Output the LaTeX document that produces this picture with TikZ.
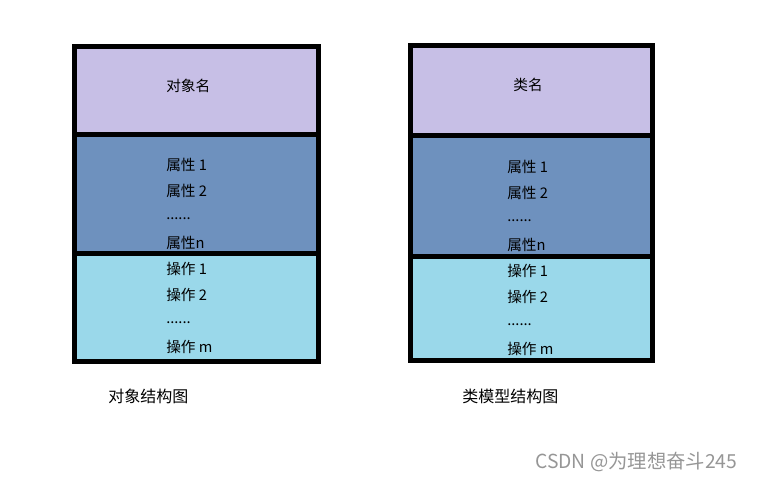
\documentclass[tikz,border=0pt]{standalone}
\usepackage{fontspec}
\setmainfont{Noto Sans CJK SC}
\definecolor{namebg}{RGB}{199,191,230}
\definecolor{attrbg}{RGB}{110,145,190}
\definecolor{opbg}{RGB}{154,216,234}
\definecolor{wm}{RGB}{150,150,150}
\begin{document}
\begin{tikzpicture}[x=0.75pt,y=-0.75pt,
  frame/.style={line width=3.75pt,draw=black},
  item/.style={anchor=west,inner sep=0pt,font=\fontsize{11pt}{13pt}\selectfont},
  ctext/.style={inner sep=0pt,font=\fontsize{11pt}{13pt}\selectfont},
  caption/.style={anchor=west,inner sep=0pt,font=\fontsize{12pt}{14pt}\selectfont}]
\useasboundingbox (0,0) rectangle (758,481);
% left box
\fill[namebg] (74.5,46.5) rectangle (318,135);
\fill[attrbg] (74.5,135) rectangle (318,254);
\fill[opbg] (74.5,254) rectangle (318,362);
\draw[frame] (74.5,46.5) rectangle (318,362);
\draw[frame] (74.5,135) -- (318,135);
\draw[frame] (74.5,254) -- (318,254);
\node[item] (on) at (166,86) {对象名};
\node[item] (a1) at (166,165) {属性 1};
\node[item] (a2) at (166,191) {属性 2};
\node[item] (a3) at (166,219) {......};
\node[item] (a4) at (166,243) {属性n};
\node[item] (o1) at (166,269) {操作 1};
\node[item] (o2) at (166,295) {操作 2};
\node[item] (o3) at (166,323) {......};
\node[item] (o4) at (166,347) {操作 m};
% right box
\fill[namebg] (410.5,45.7) rectangle (652,135.5);
\fill[attrbg] (410.5,135.5) rectangle (652,257);
\fill[opbg] (410.5,257) rectangle (652,361);
\draw[frame] (410.5,45.7) rectangle (652,361);
\draw[frame] (410.5,135.5) -- (654,135.5);
\draw[frame] (410.5,257) -- (654,257);
\node[ctext] (cn) at (528,85) {类名};
\node[item] (b1) at (507,167) {属性 1};
\node[item] (b2) at (507,193) {属性 2};
\node[item] (b3) at (507,221) {......};
\node[item] (b4) at (507,245) {属性n};
\node[item] (p1) at (507,271) {操作 1};
\node[item] (p2) at (507,297) {操作 2};
\node[item] (p3) at (507,325) {......};
\node[item] (p4) at (507,349) {操作 m};
% captions
\node[caption] (lc) at (108,396) {对象结构图};
\node[caption] (rc) at (462,396) {类模型结构图};
\node[anchor=west,inner sep=0pt,text=wm,font=\fontsize{14.5pt}{16pt}\selectfont] (wmk) at (535,462) {CSDN @为理想奋斗245};
\end{tikzpicture}
\end{document}
